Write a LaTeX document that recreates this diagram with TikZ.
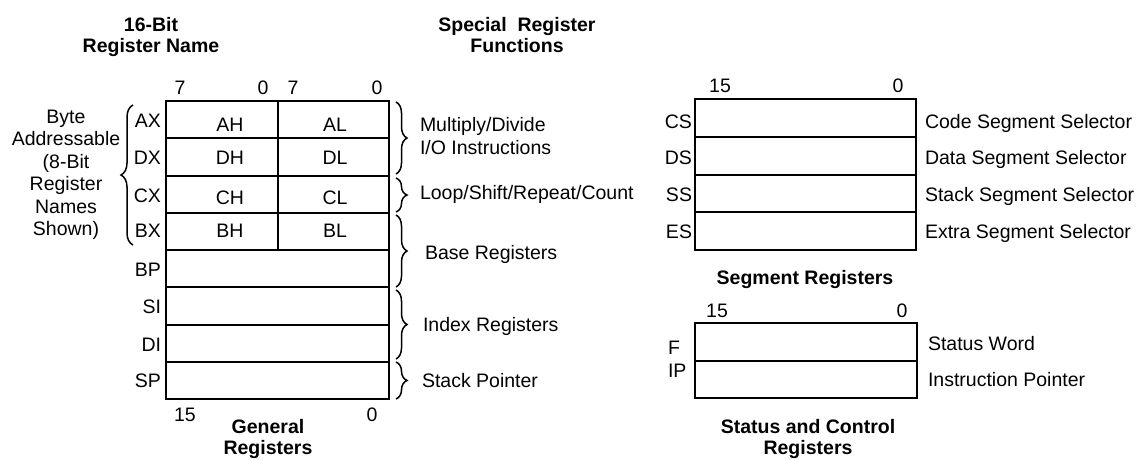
\documentclass[tikz,border=0pt]{standalone}
\usepackage{fontspec}
\setmainfont{Liberation Sans}
\usetikzlibrary{decorations.pathreplacing}
\begin{document}
\begin{tikzpicture}[x=1pt,y=-1pt,
  every node/.style={inner sep=0pt, outer sep=0pt, font=\fontsize{19.5pt}{22.5pt}\selectfont},
  reg/.style={draw, line width=2pt, minimum height=37.25pt},
  half/.style={reg, minimum width=111.5pt},
  full/.style={reg, minimum width=223pt},
  segreg/.style={reg, minimum width=221pt, minimum height=37.75pt},
  streg/.style={reg, minimum width=222pt, minimum height=37.5pt},
  txt/.style={text height=14pt, text depth=0pt},
  lab/.style={txt, anchor=east},
  fn/.style={txt, anchor=west},
  hdr/.style={align=center, font=\fontsize{19.5pt}{21pt}\selectfont\bfseries},
  brc/.style={decorate, decoration={brace, amplitude=11pt}, line width=1.5pt}
]
\useasboundingbox (0,0) rectangle (1136,459);

% headers
\node[hdr] (h1) at (151,37) {16-Bit\\Register Name};
\node[hdr] (h2) at (517,35) {Special\ \ Register\\Functions};

% bit numbers general
\node[txt] (b7a) at (180,87) {7};
\node[txt] (b0a) at (263,87) {0};
\node[txt] (b7b) at (293,87) {7};
\node[txt] (b0b) at (377,87) {0};
\node[txt] (b15g) at (185,414) {15};
\node[txt] (b0g) at (372,414) {0};

% general registers
\node[half] (ahc) at (221.75,119.625) {};
\node[half] (alc) at (333.25,119.625) {};
\node[half] (dhc) at (221.75,156.875) {};
\node[half] (dlc) at (333.25,156.875) {};
\node[half] (chc) at (221.75,194.125) {};
\node[half] (clc) at (333.25,194.125) {};
\node[half] (bhc) at (221.75,231.375) {};
\node[half] (blc) at (333.25,231.375) {};
\node[full] (bpc) at (277.5,268.625) {};
\node[full] (sic) at (277.5,305.875) {};
\node[full] (dic) at (277.5,343.125) {};
\node[full] (spc) at (277.5,380.375) {};

\node[txt] (ah) at (230,124) {AH};
\node[txt] (al) at (335,124) {AL};
\node[txt] (dh) at (230,157) {DH};
\node[txt] (dl) at (335,157) {DL};
\node[txt] (ch) at (230,197) {CH};
\node[txt] (cl) at (335,197) {CL};
\node[txt] (bh) at (230,230) {BH};
\node[txt] (bl) at (335,230) {BL};

\node[lab] (ax) at (161,120) {AX};
\node[lab] (dx) at (161,157) {DX};
\node[lab] (cx) at (161,195) {CX};
\node[lab] (bx) at (161,230) {BX};
\node[lab] (bp) at (161,269) {BP};
\node[lab] (si) at (161,306) {SI};
\node[lab] (di) at (161,344) {DI};
\node[lab] (sp) at (161,380) {SP};

% left brace and text
\draw[brc, decoration={amplitude=12pt}] (133,245) -- (133,105);
\node[align=center] (byte) at (66,175) {Byte\\Addressable\\(8-Bit\\Register\\Names\\Shown)};

% right braces
\draw[brc] (396,102) -- (396,174);
\draw[brc] (396,178) -- (396,212);
\draw[brc] (396,215) -- (396,287);
\draw[brc] (396,290) -- (396,359);
\draw[brc] (396,362) -- (396,399);

\node[fn, align=left, text height=, text depth=] (md) at (420,136) {Multiply/Divide\\I/O Instructions};
\node[fn] (lp) at (420,192) {Loop/Shift/Repeat/Count};
\node[fn] (br) at (425,252) {Base Registers};
\node[fn] (ir) at (423,324) {Index Registers};
\node[fn] (stp) at (422,380) {Stack Pointer};

\node[hdr] (gr) at (268,439) {General\\Registers};

% segment registers
\node[txt] (b15s) at (720,85) {15};
\node[txt] (b0s) at (898,85) {0};
\node[segreg] (csc) at (805.5,117.875) {};
\node[segreg] (dsc) at (805.5,155.625) {};
\node[segreg] (ssc) at (805.5,193.375) {};
\node[segreg] (esc) at (805.5,231.125) {};
\node[lab] (cs) at (692,121) {CS};
\node[lab] (ds) at (692,157) {DS};
\node[lab] (ss) at (692,194) {SS};
\node[lab] (es) at (692,231) {ES};
\node[fn] (css) at (925,121) {Code Segment Selector};
\node[fn] (dss) at (925,157) {Data Segment Selector};
\node[fn] (sss) at (925,194) {Stack Segment Selector};
\node[fn] (ess) at (925,231) {Extra Segment Selector};
\node[hdr, txt] (sr) at (805,277) {Segment Registers};

% status and control
\node[txt] (b15c) at (717,310) {15};
\node[txt] (b0c) at (902,310) {0};
\node[streg] (fc) at (806,341.75) {};
\node[streg] (ipc) at (806,379.25) {};
\node[txt, anchor=west] (f) at (668,347) {F};
\node[txt, anchor=west] (ip) at (668,370) {IP};
\node[fn] (sw) at (928,343) {Status Word};
\node[fn] (ipt) at (928,379) {Instruction Pointer};
\node[hdr] (sc) at (808,439) {Status and Control\\Registers};
\end{tikzpicture}
\end{document}
